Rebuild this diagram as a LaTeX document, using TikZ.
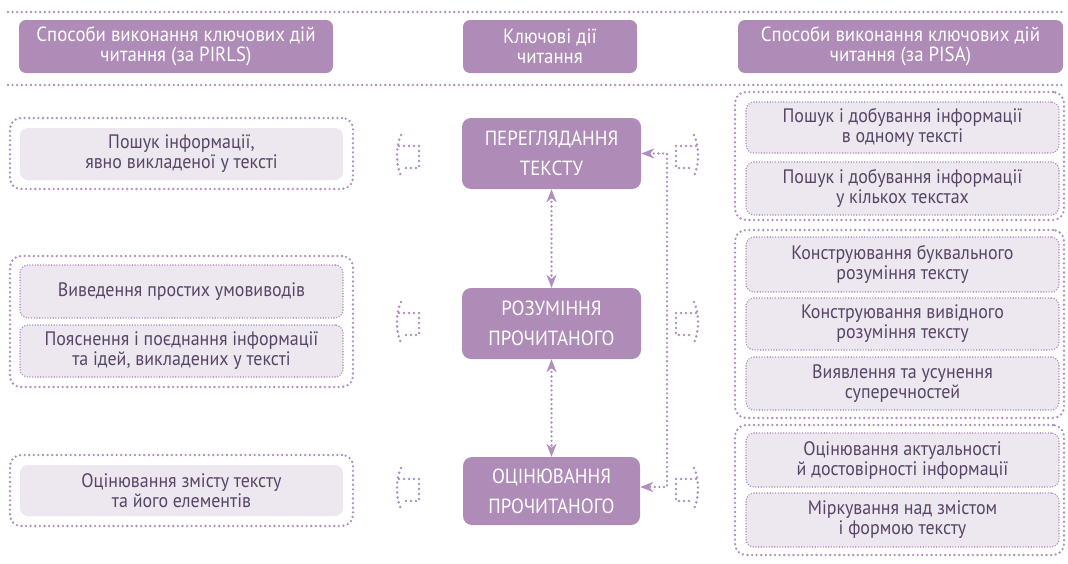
\documentclass[tikz,border=0pt]{standalone}
\usepackage{fontspec}
\setmainfont{PT Sans}[FakeStretch=0.92]
\usetikzlibrary{arrows.meta}
\definecolor{hdr}{HTML}{AE8CB7}
\definecolor{dotc}{HTML}{B08EBD}
\definecolor{inner}{HTML}{EDE7F0}
\definecolor{txt}{HTML}{574566}
\tikzset{
  hdrbox/.style={rectangle, rounded corners=7pt, fill=hdr, text=white, align=center,
    font=\fontsize{20.5}{20}\selectfont, inner sep=0pt},
  keybox/.style={rectangle, rounded corners=9pt, fill=hdr, text=white, align=center,
    font=\fontsize{20.5}{30}\selectfont, inner sep=0pt},
  outerbox/.style={rectangle, rounded corners=11pt, draw=dotc, line width=2.6pt, line cap=round,
    dash pattern=on 0pt off 4.6pt, inner sep=0pt},
  plainbox/.style={rectangle, rounded corners=8pt, fill=inner, text=txt, align=center,
    font=\fontsize{19.5}{20}\selectfont, inner sep=0pt},
  dotbox/.style={plainbox, draw=dotc, line width=1.6pt, line cap=round, dash pattern=on 0pt off 2.7pt},
  dotline/.style={draw=dotc, line width=2.6pt, line cap=round, dash pattern=on 0pt off 4.6pt},
  conn/.style={draw=dotc, line width=2.6pt, line cap=round, dash pattern=on 0pt off 4.6pt,
    {Stealth[length=13pt,width=10pt,inset=4pt,fill=dotc]}-{Stealth[length=13pt,width=10pt,inset=4pt,fill=dotc]}},
  icon/.pic={
    \draw[dotline, line width=2.8pt, dash pattern=on 0pt off 5pt] (6,0) .. controls (1,10) and (0,30) .. (7,43);
    \draw[dotline, line width=2.8pt, dash pattern=on 0pt off 5pt] (4,11) -- (24,11) -- (24,33) -- (9,33);
  }
}
\begin{document}
\begin{tikzpicture}[x=1pt,y=-1pt]
\useasboundingbox (0,0) rectangle (1068,563);
% header rules
\draw[dotline] (8,12) -- (1062,12);
\draw[dotline] (8,85) -- (1062,85);
% headers
\node[hdrbox, minimum width=314pt, minimum height=53pt] (hL) at (176,46.5) {Способи виконання ключових дій\\читання (за PIRLS)};
\node[hdrbox, minimum width=174pt, minimum height=53pt] (hM) at (550,46.5) {Ключові дії\\читання};
\node[hdrbox, minimum width=325pt, minimum height=53pt] (hR) at (900.5,46.5) {Способи виконання ключових дій\\читання (за PISA)};
% left column
\node[outerbox, minimum width=343pt, minimum height=71pt] (gL1) at (181.5,153.5) {};
\node[plainbox, minimum width=323pt, minimum height=52pt] (l1) at (181.5,154) {Пошук інформації,\\явно викладеної у тексті};
\node[outerbox, minimum width=343pt, minimum height=131pt] (gL2) at (181.5,321.5) {};
\node[dotbox, minimum width=323pt, minimum height=53pt] (l2) at (181.5,291.5) {Виведення простих умовиводів};
\node[dotbox, minimum width=323pt, minimum height=52pt] (l3) at (181.5,351) {Пояснення і поєднання інформації\\та ідей, викладених у тексті};
\node[outerbox, minimum width=343pt, minimum height=71pt] (gL3) at (181.5,490.5) {};
\node[plainbox, minimum width=323pt, minimum height=51pt] (l4) at (181.5,490.5) {Оцінювання змісту тексту\\та його елементів};
% middle column
\node[keybox, minimum width=179pt, minimum height=71pt] (n1) at (551.5,153.5) {ПЕРЕГЛЯДАННЯ\\ТЕКСТУ};
\node[keybox, minimum width=179pt, minimum height=71pt] (n2) at (551.5,323.5) {РОЗУМІННЯ\\ПРОЧИТАНОГО};
\node[keybox, minimum width=177pt, minimum height=68pt] (n3) at (551.5,491) {ОЦІНЮВАННЯ\\ПРОЧИТАНОГО};
\draw[conn] (n1.south) -- (n2.north);
\draw[conn] (n2.south) -- (n3.north);
\coordinate (b1) at (667,153.5);
\coordinate (b2) at (667,487);
\draw[conn] (n1.east) -- (b1) -- (b2) -- (n3.east |- b2);
% right column
\node[outerbox, minimum width=329pt, minimum height=128pt] (gR1) at (899.5,156) {};
\node[dotbox, minimum width=313pt, minimum height=51pt] (r1) at (902.5,127.5) {Пошук і добування інформації\\в одному тексті};
\node[dotbox, minimum width=313pt, minimum height=53pt] (r2) at (902.5,188.5) {Пошук і добування інформації\\у кількох текстах};
\node[outerbox, minimum width=329pt, minimum height=188pt] (gR2) at (899.5,324) {};
\node[dotbox, minimum width=313pt, minimum height=55pt] (r3) at (902.5,264.5) {Конструювання буквального\\розуміння тексту};
\node[dotbox, minimum width=313pt, minimum height=52pt] (r4) at (902.5,324) {Конструювання вивідного\\розуміння тексту};
\node[dotbox, minimum width=313pt, minimum height=53pt] (r5) at (902.5,383.5) {Виявлення та усунення\\суперечностей};
\node[outerbox, minimum width=329pt, minimum height=130pt] (gR3) at (899.5,490) {};
\node[dotbox, minimum width=313pt, minimum height=54pt] (r6) at (902.5,460) {Оцінювання актуальності\\й достовірності інформації};
\node[dotbox, minimum width=313pt, minimum height=54pt] (r7) at (902.5,520) {Міркування над змістом\\і формою тексту};
% icons
\pic at (395,135) {icon};
\pic at (395,302) {icon};
\pic at (395,468) {icon};
\pic[xscale=-1] at (700,135) {icon};
\pic[xscale=-1] at (700,302) {icon};
\pic[xscale=-1] at (700,468) {icon};
\end{tikzpicture}
\end{document}
